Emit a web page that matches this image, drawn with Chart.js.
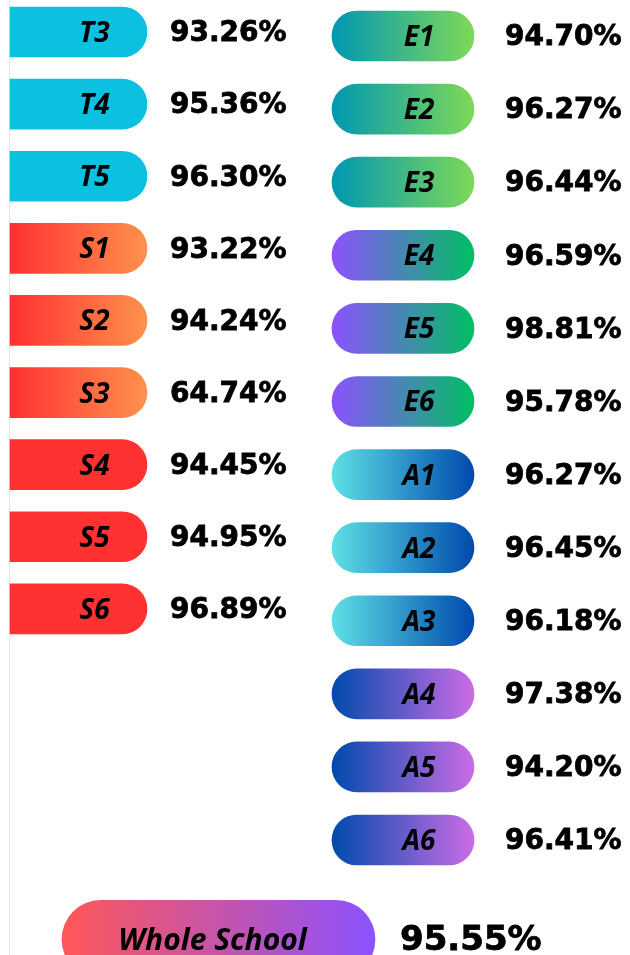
<!DOCTYPE html>
<html>
<head>
<meta charset="utf-8">
<script src="https://cdn.jsdelivr.net/npm/chart.js@4.4.1/dist/chart.umd.min.js"></script>
<style>
  html, body { margin: 0; padding: 0; background: #fff; }
  canvas { display: block; }
</style>
</head>
<body>
<canvas id="attendance" width="630" height="955"></canvas>
<script>
// attendance by class
const leftClasses = ["T3", "T4", "T5", "S1", "S2", "S3", "S4", "S5", "S6"];
const leftRates = [93.26, 95.36, 96.30, 93.22, 94.24, 64.74, 94.45, 94.95, 96.89];

const rightClasses = ["E1", "E2", "E3", "E4", "E5", "E6", "A1", "A2", "A3", "A4", "A5", "A6"];
const rightRates = [94.70, 96.27, 96.44, 96.59, 98.81, 95.78, 96.27, 96.45, 96.18, 97.38, 94.20, 96.41];

const wholeLabel = ["Whole School"];
const wholeRate = [95.55];

// pill colours (start, end) per group
const colours = {
    T: ["#0CC0DF", "#0CC0DF"],
    S_low: ["#FF3131", "#FF914D"],
    S_high: ["#FF3131", "#FF3131"],
    E_low: ["#0097B2", "#7ED957"],
    E_high: ["#8C52FF", "#00BF63"],
    A_low: ["#5DE0E6", "#004AAD"],
    A_high: ["#004AAD", "#CB6CE6"],
    whole: ["#FF5757", "#8C52FF"]
};

function colourFor(name) {
    if (name === "Whole School") return colours.whole;
    const letter = name[0];
    const n = parseInt(name.slice(1));
    if (letter === "T") return colours.T;
    return colours[letter + (n <= 3 ? "_low" : "_high")];
}

function pillFill(c, names) {
    const stops = colourFor(names[c.dataIndex]);
    const chart = c.chart;
    if (c.type !== "data" || !chart.chartArea || !c.raw) return stops[0];
    const xs = chart.scales.x;
    const g = chart.ctx.createLinearGradient(xs.getPixelForValue(c.raw.x[0]), 0, xs.getPixelForValue(c.raw.x[1]), 0);
    g.addColorStop(0, stops[0]);
    g.addColorStop(1, stops[1]);
    return g;
}

// column layout (x in canvas units)
const leftSpan = [10, 147];
const rightSpan = [332, 474];
const wholeSpan = [62, 375];

const textExtras = [
    {names: leftClasses, rates: leftRates, labelShift: 16, gap: 23, size: 28, label: 28},
    {names: rightClasses, rates: rightRates, labelShift: 16, gap: 31, size: 28, label: 28},
    {names: wholeLabel, rates: wholeRate, labelShift: -6, gap: 25, size: 34, label: 30}
];

const pillText = {
    id: "pillText",
    beforeDatasetsDraw(chart) {
        const ctx = chart.ctx;
        ctx.save();
        ctx.strokeStyle = "#e4e4ec";
        ctx.lineWidth = 1;
        ctx.beginPath();
        ctx.moveTo(9.5, 0);
        ctx.lineTo(9.5, chart.height);
        ctx.stroke();
        ctx.restore();
    },
    afterDatasetsDraw(chart) {
        const ctx = chart.ctx;
        ctx.save();
        chart.data.datasets.forEach((ds, di) => {
            const extra = textExtras[di];
            chart.getDatasetMeta(di).data.forEach((bar, i) => {
                const p = bar.getProps(["x", "y", "base"]);
                const mid = (p.x + p.base) / 2;
                ctx.fillStyle = "#000";
                ctx.strokeStyle = "#000";
                ctx.textBaseline = "middle";
                ctx.textAlign = "center";
                ctx.font = "italic 700 " + extra.label + "px 'Noto Sans'";
                ctx.fillText(extra.names[i], mid + extra.labelShift, p.y + 2);
                ctx.textAlign = "left";
                ctx.font = "bold " + extra.size + "px 'DejaVu Sans'";
                const txt = extra.rates[i].toFixed(2) + "%";
                ctx.fillText(txt, p.x + extra.gap, p.y + 2);
                // a bit heavier, like the original
                ctx.lineWidth = 0.8;
                ctx.strokeText(txt, p.x + extra.gap, p.y + 2);
            });
        });
        ctx.restore();
    }
};

window.onload = () => {

    const canvas = document.querySelector("#attendance");

    const chart = new Chart(canvas, {
        type: "bar",
        data: {
            datasets: [{
                label: "Left",
                data: leftClasses.map((c, i) => ({x: leftSpan, y: i})),
                yAxisID: "yL",
                grouped: false,
                barThickness: 50,
                borderSkipped: false,
                borderRadius: {topLeft: 0, bottomLeft: 0, topRight: 25, bottomRight: 25},
                backgroundColor: (c) => pillFill(c, leftClasses)
            }, {
                label: "Right",
                data: rightClasses.map((c, i) => ({x: rightSpan, y: i})),
                yAxisID: "yR",
                grouped: false,
                barThickness: 50,
                borderSkipped: false,
                borderRadius: 25,
                backgroundColor: (c) => pillFill(c, rightClasses)
            }, {
                label: "Whole",
                data: [{x: wholeSpan, y: 0}],
                yAxisID: "yW",
                grouped: false,
                barThickness: 78,
                borderSkipped: false,
                borderRadius: 39,
                backgroundColor: (c) => pillFill(c, wholeLabel)
            }]
        },
        options: {
            indexAxis: "y",
            responsive: false,
            animation: false,
            layout: {padding: 0},
            plugins: {
                legend: {display: false},
                tooltip: {enabled: false}
            },
            scales: {
                x: {type: "linear", min: 0, max: 630, display: false},
                yL: {type: "linear", reverse: true, offset: false, min: -0.444, max: 12.80, display: false},
                yR: {type: "linear", reverse: true, offset: false, min: -0.4925, max: 12.573, display: false},
                yW: {type: "linear", reverse: true, offset: false, min: -12.06, max: 0.2, display: false}
            }
        },
        plugins: [pillText]
    });

}
</script>
</body>
</html>
